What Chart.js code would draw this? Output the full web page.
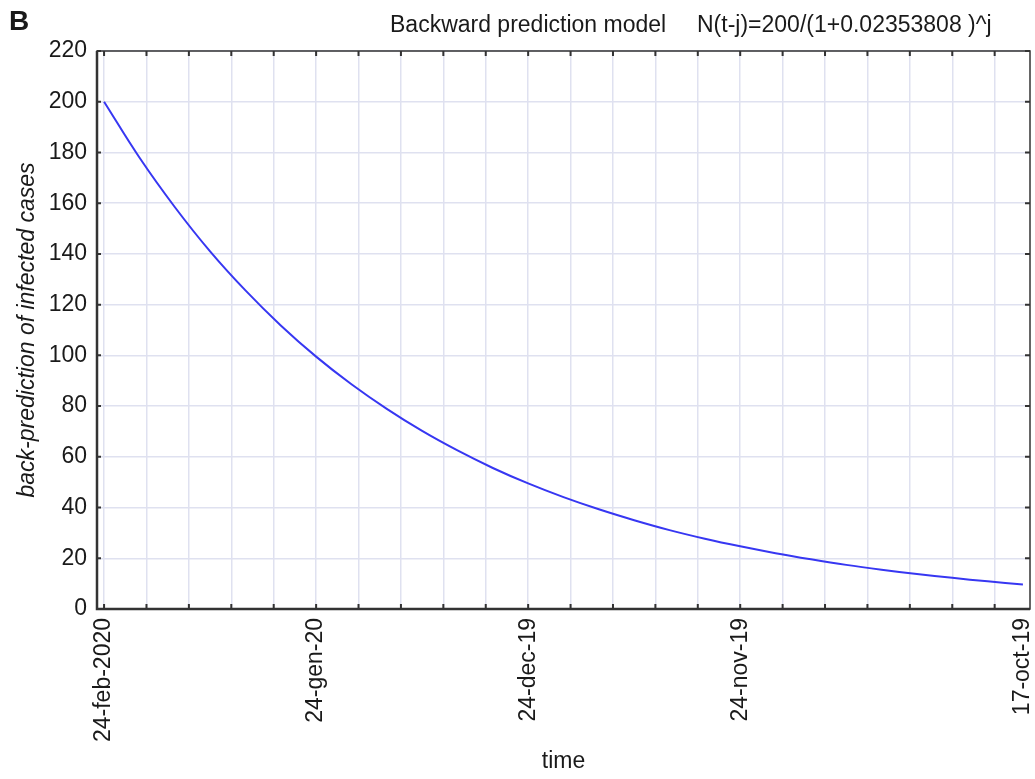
<!DOCTYPE html>
<html>
<head>
<meta charset="utf-8">
<script src="https://cdn.jsdelivr.net/npm/chart.js@4.4.1/dist/chart.umd.min.js"></script>
<style>
  html, body { margin: 0; padding: 0; background: #fff; overflow: hidden; }
  canvas { display: block; }
</style>
</head>
<body>
<canvas id="chart" width="1035" height="779" style="width:1035px;height:779px"></canvas>
<script>
// ── Data ─────────────────────────────────────────────────────
// j = days back from 24-feb-2020
const dayIndex = [0, 5, 10, 15, 20, 25, 30, 35, 40, 45, 50, 55, 60, 65,
                  70, 75, 80, 85, 90, 95, 100, 105, 110, 115, 120, 125, 130];
const cases    = [200, 178, 158.5, 141, 125.6, 111.8, 99.5, 88.6, 78.9, 70.2, 62.5, 55.6, 49.5, 44.1,
                  39.3, 35, 31.1, 27.7, 24.7, 22, 19.6, 17.4, 15.5, 13.8, 12.3, 10.9, 9.7];

const gridDays   = [0, 6, 12, 18, 24, 30, 36, 42, 48, 54, 60, 66, 72, 78, 84, 90,
                    96, 102, 108, 114, 120, 126, 130];
const labelDays  = [0, 30, 60, 90, 130];
const dateLabels = ['24-feb-2020', '24-gen-20', '24-dec-19', '24-nov-19', '17-oct-19'];

const yTicks = [0, 20, 40, 60, 80, 100, 120, 140, 160, 180, 200, 220];

const COLORS = {
  line:  '#3737f2',
  grid:  '#dfe1f0',
  axis:  '#333333',
  text:  '#1a1a1a',
};
const FONT = "'Liberation Sans', Arial, sans-serif";

// ── Frame + inward ticks + headings ──────────────────────────
const framePlugin = {
  id: 'frame',
  afterDraw(chart) {
    const { ctx, chartArea: a, scales } = chart;
    ctx.save();
    ctx.strokeStyle = COLORS.axis;
    ctx.lineWidth = 1.5;
    ctx.strokeRect(a.left, a.top, a.right - a.left, a.bottom - a.top);
    // heavier left and bottom axis lines
    ctx.lineWidth = 2.5;
    ctx.beginPath();
    ctx.moveTo(a.left, a.top);
    ctx.lineTo(a.left, a.bottom);
    ctx.lineTo(a.right, a.bottom);
    ctx.stroke();

    ctx.lineWidth = 2;
    ctx.beginPath();
    gridDays.forEach((d) => {
      if (d === 130) return;
      const x = scales.x.getPixelForValue(d);
      ctx.moveTo(x, a.bottom); ctx.lineTo(x, a.bottom - 5);
      ctx.moveTo(x, a.top);    ctx.lineTo(x, a.top + 5);
    });
    yTicks.forEach((v) => {
      const y = scales.y.getPixelForValue(v);
      ctx.moveTo(a.left, y);  ctx.lineTo(a.left + 4, y);
      ctx.moveTo(a.right, y); ctx.lineTo(a.right - 5, y);
    });
    ctx.stroke();

    ctx.fillStyle = COLORS.text;
    ctx.textBaseline = 'alphabetic';
    ctx.textAlign = 'left';
    ctx.font = `bold 28px ${FONT}`;
    ctx.fillText('B', 9, 30);
    ctx.font = `23px ${FONT}`;
    ctx.fillText('Backward prediction model', 390, 32);
    ctx.fillText('N(t-j)=200/(1+0.02353808 )^j', 697, 32);
    ctx.restore();
  },
};

const ctx = document.getElementById('chart').getContext('2d');

new Chart(ctx, {
  type: 'line',
  data: {
    datasets: [{
      label: 'N(t-j)',
      data: dayIndex.map((d, i) => ({ x: d, y: cases[i] })),
      borderColor: COLORS.line,
      borderWidth: 2,
      pointRadius: 0,
      tension: 0.4,
      fill: false,
    }],
  },
  options: {
    responsive: false,
    maintainAspectRatio: false,
    animation: false,
    layout: { padding: { top: 51, right: 5, bottom: 0, left: 0 } },
    plugins: {
      legend:  { display: false },
      tooltip: { enabled: false },
    },
    scales: {
      x: {
        type: 'linear',
        min: -1,
        max: 131,
        afterBuildTicks: (scale) => { scale.ticks = gridDays.map((v) => ({ value: v })); },
        afterFit: (scale) => {
          scale.height = 170;
          scale.paddingLeft = 0;
          scale.paddingRight = 0;
        },
        grid: {
          color: (c) => (c.tick && c.tick.value === 130 ? 'rgba(0,0,0,0)' : COLORS.grid),
          lineWidth: 1.5,
          drawTicks: false,
        },
        border: { display: false },
        ticks: {
          autoSkip: false,
          maxRotation: 90,
          minRotation: 90,
          padding: 9,
          color: COLORS.text,
          font: { family: FONT, size: 23 },
          callback: (v) => {
            const k = labelDays.indexOf(v);
            return k >= 0 ? dateLabels[k] : '';
          },
        },
        title: {
          display: true,
          text: 'time',
          color: COLORS.text,
          font: { family: FONT, size: 23 },
          padding: { top: 0, bottom: 4 },
        },
      },
      y: {
        min: 0,
        max: 220,
        afterBuildTicks: (scale) => { scale.ticks = yTicks.map((v) => ({ value: v })); },
        afterFit: (scale) => { scale.width = 97; },
        grid: { color: COLORS.grid, lineWidth: 1.5, drawTicks: false },
        border: { display: false },
        ticks: {
          padding: 10,
          color: COLORS.text,
          font: { family: FONT, size: 23 },
        },
        title: {
          display: true,
          text: 'back-prediction of infected cases',
          color: COLORS.text,
          font: { family: FONT, size: 23, style: 'italic' },
          padding: { top: 14, bottom: 0 },
        },
      },
    },
  },
  plugins: [framePlugin],
});
</script>
</body>
</html>
